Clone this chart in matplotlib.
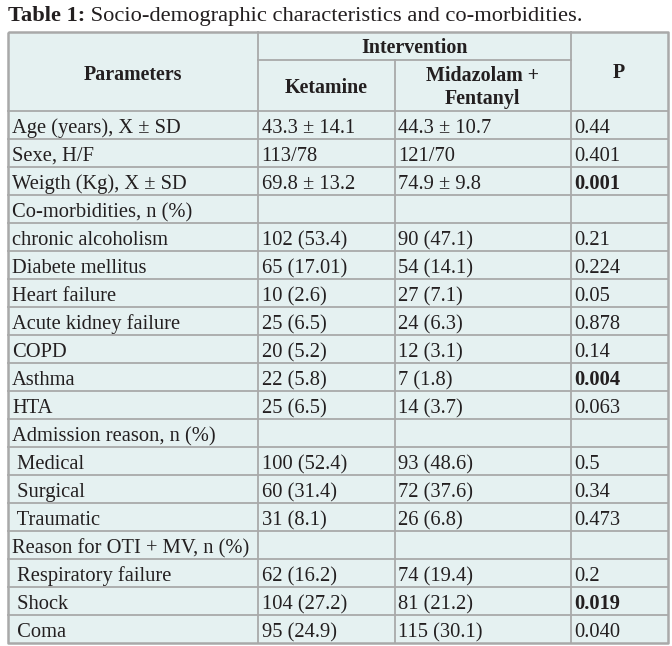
import matplotlib
matplotlib.use("Agg")
import matplotlib.pyplot as plt

parameters = ["Age (years), X \u00b1 SD", "Sexe, H/F", "Weigth (Kg), X \u00b1 SD",
              "Co-morbidities, n (%)", "chronic alcoholism", "Diabete mellitus",
              "Heart failure", "Acute kidney failure", "COPD", "Asthma", "HTA",
              "Admission reason, n (%)", " Medical", " Surgical", " Traumatic",
              "Reason for OTI + MV, n (%)", " Respiratory failure", " Shock", " Coma"]
ketamine = ["43.3 \u00b1 14.1", "113/78", "69.8 \u00b1 13.2", "", "102 (53.4)", "65 (17.01)",
            "10 (2.6)", "25 (6.5)", "20 (5.2)", "22 (5.8)", "25 (6.5)", "",
            "100 (52.4)", "60 (31.4)", "31 (8.1)", "", "62 (16.2)", "104 (27.2)", "95 (24.9)"]
midazolam = ["44.3 \u00b1 10.7", "121/70", "74.9 \u00b1 9.8", "", "90 (47.1)", "54 (14.1)",
             "27 (7.1)", "24 (6.3)", "12 (3.1)", "7 (1.8)", "14 (3.7)", "",
             "93 (48.6)", "72 (37.6)", "26 (6.8)", "", "74 (19.4)", "81 (21.2)", "115 (30.1)"]
p_values = ["0.44", "0.401", "0.001", "", "0.21", "0.224", "0.05", "0.878", "0.14",
            "0.004", "0.063", "", "0.5", "0.34", "0.473", "", "0.2", "0.019", "0.040"]
p_bold = ["0.001", "0.004", "0.019"]

title_bold = "Table 1:"
title_rest = " Socio-demographic characteristics and co-morbidities."
header_main = "Parameters"
header_group = "Intervention"
header_cols = ["Ketamine", "Midazolam +", "Fentanyl"]
header_p = "P"

W, H = 672, 646
fig = plt.figure(figsize=(W / 100, H / 100), dpi=100)
ax = fig.add_axes([0, 0, 1, 1])
ax.set_xlim(0, W)
ax.set_ylim(H, 0)
ax.axis("off")

font = "Liberation Serif"
fs = 14.8
fsh = 14.4
fst = 16.2
bg = "#e5f1f1"
lc = "#a9a9a9"
tc = "#231f20"

xL, x1, x2, x3, xR = 7.5, 258, 394.5, 571, 667.5
yT, yMid, yH = 31.5, 60, 111
rowh = 28
yB = yH + rowh * len(parameters)

ax.add_patch(plt.Rectangle((xL, yT), xR - xL, yB - yT, facecolor=bg, edgecolor="none"))

lw = 1.3
ax.plot([xL, xR, xR, xL, xL], [yT, yT, yB, yB, yT], color=lc, lw=1.8, solid_capstyle="butt")
for x in (x1, x3):
    ax.plot([x, x], [yT, yB], color=lc, lw=lw)
ax.plot([x2, x2], [yMid, yB], color=lc, lw=lw)
ax.plot([x1, x3], [yMid, yMid], color=lc, lw=lw)
for i in range(len(parameters)):
    y = yH + i * rowh
    ax.plot([xL, xR], [y, y], color=lc, lw=lw)

# title
t = ax.text(8, 21, title_bold, fontsize=fst, fontweight="bold", family=font, color=tc,
            va="baseline", ha="left")
fig.canvas.draw()
bb = t.get_window_extent()
ax.text(bb.x1 * (W / fig.bbox.width), 21, title_rest, fontsize=fst, family=font, color=tc,
        va="baseline", ha="left")

# headers
hk = dict(fontsize=fsh, fontweight="bold", family=font, color=tc, ha="center", va="baseline")
ax.text((xL + x1) / 2, 80, header_main, **hk)
ax.text((x1 + x3) / 2, 53, header_group, **hk)
ax.text((x1 + x2) / 2, 93, header_cols[0], **hk)
ax.text((x2 + x3) / 2, 81, header_cols[1], **hk)
ax.text((x2 + x3) / 2, 104, header_cols[2], **hk)
ax.text((x3 + xR) / 2, 78.5, header_p, **hk)

for i, (p, k, m, pv) in enumerate(zip(parameters, ketamine, midazolam, p_values)):
    yb = yH + i * rowh + 22
    ax.text(xL + 4.5, yb, p, fontsize=fs, family=font, color=tc, ha="left", va="baseline")
    ax.text(x1 + 3.5, yb, k, fontsize=fs, family=font, color=tc, ha="left", va="baseline")
    ax.text(x2 + 3.5, yb, m, fontsize=fs, family=font, color=tc, ha="left", va="baseline")
    ax.text(x3 + 3.5, yb, pv, fontsize=fs, family=font, color=tc, ha="left", va="baseline",
            fontweight="bold" if pv in p_bold else "normal")

fig.savefig("out.png", dpi=100, facecolor="white")
